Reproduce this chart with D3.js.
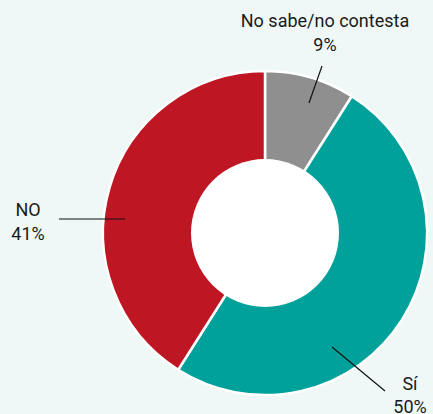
<!DOCTYPE html>
<html><head><meta charset="utf-8">
<script src="https://cdn.jsdelivr.net/npm/d3@7"></script>
<style>html,body{margin:0;padding:0;background:#eff8f7;}svg{display:block;}</style>
</head><body>
<script>
const categories = ["No sabe/no contesta", "Sí", "NO"];
const values = [9, 50, 41];
const labels = ["9%", "50%", "41%"];
const colors = ["#8f8f8f", "#00a19a", "#be1622"];

const W = 433, H = 414, cx = 265, cy = 233, R = 162, r = 74;
const svg = d3.select("body").append("svg").attr("width", W).attr("height", H);
svg.append("rect").attr("width", W).attr("height", H).attr("fill", "#eff8f7");
const g = svg.append("g").attr("transform", `translate(${cx},${cy})`);
const pie = d3.pie().sort(null).value(d => d)(values);
const arc = d3.arc().innerRadius(0).outerRadius(R);
g.selectAll("path.s").data(pie).join("path").attr("class","s")
  .attr("d", arc).attr("fill", (d,i) => colors[i])
  .attr("stroke", "#fff").attr("stroke-width", 2.5);
g.append("circle").attr("r", r).attr("fill", "#fff");

const font = "Roboto, 'Open Sans', sans-serif";
const leaders = [
  {from: [322-cx, 66-cy], to: [309-cx, 103-cy]},
  {from: [332-cx, 347-cy], to: [385-cx, 391-cy]},
  {from: [59-cx, 219-cy], to: [125-cx, 219-cy]}
];
g.selectAll("line.l").data(leaders).join("line").attr("class","l")
  .attr("x1", d => d.from[0]).attr("y1", d => d.from[1])
  .attr("x2", d => d.to[0]).attr("y2", d => d.to[1])
  .attr("stroke", "#111").attr("stroke-width", 1.2);

const textPos = [[325, 27, 51], [410, 390, 413], [28, 216, 240]];
categories.forEach((c, i) => {
  svg.append("text").attr("text-anchor", "middle")
    .attr("font-family", font).attr("font-size", 18).attr("fill", "#1a1a1a")
    .attr("x", textPos[i][0]).attr("y", textPos[i][1]).text(c);
  svg.append("text").attr("text-anchor", "middle")
    .attr("font-family", font).attr("font-size", 18).attr("fill", "#1a1a1a")
    .attr("x", textPos[i][0]).attr("y", textPos[i][2]).text(labels[i]);
});
</script>
</body></html>
